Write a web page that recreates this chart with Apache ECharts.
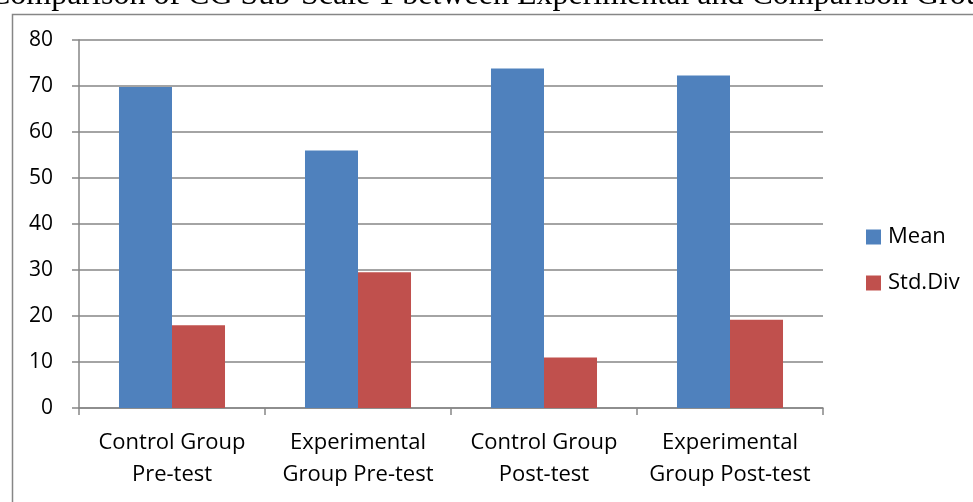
<!DOCTYPE html>
<html>
<head>
<meta charset="utf-8">
<script src="https://cdn.jsdelivr.net/npm/echarts@6/dist/echarts.min.js"></script>
<style>
html,body{margin:0;padding:0;background:#fff;}
#c{width:973px;height:502px;}
</style>
</head>
<body>
<div id="c"></div>
<script>
const titleText = "Comparison of CG Sub-Scale 1 between Experimental and Comparison Group";
const categories = ["Control Group\nPre-test", "Experimental\nGroup Pre-test", "Control Group\nPost-test", "Experimental\nGroup Post-test"];
const meanValues = [69.8, 56.0, 73.8, 72.3];
const stdValues = [18.0, 29.5, 11.0, 19.2];
const seriesNames = ["Mean", "Std.Div"];

const font = "'Open Sans', Lato, sans-serif";
const chart = echarts.init(document.getElementById('c'));
chart.setOption({
  animation: false,
  backgroundColor: '#fff',
  graphic: [
    { type: 'rect', left: 10, top: 12, shape: { width: 1200, height: 1000 }, style: { fill: 'none', stroke: '#868686', lineWidth: 1.5 }, z: -1 },
    { type: 'text', left: -11, top: -20, style: { text: titleText, font: "32px 'Liberation Serif', 'Times New Roman', serif", fill: '#000' } }
  ],
  legend: {
    orient: 'vertical',
    left: 866,
    top: 226,
    padding: 0,
    itemWidth: 15,
    itemHeight: 15,
    itemGap: 24,
    icon: 'rect',
    textStyle: { fontFamily: font, fontSize: 22, color: '#000', padding: [0,0,0,2] },
    data: seriesNames
  },
  grid: { left: 79, right: 150, top: 40, bottom: 94 },
  xAxis: {
    type: 'category',
    data: categories,
    axisLine: { lineStyle: { color: '#868686', width: 1.5 } },
    axisTick: { show: true, interval: 0, length: 7, lineStyle: { color: '#868686', width: 1.5 } },
    axisLabel: { interval: 0, fontFamily: font, fontSize: 22, color: '#000', margin: 19, lineHeight: 32 }
  },
  yAxis: {
    type: 'value',
    min: 0, max: 80, interval: 10,
    axisLine: { show: true, lineStyle: { color: '#868686', width: 1.5 } },
    axisTick: { show: true, length: 7, lineStyle: { color: '#868686', width: 1.5 } },
    splitLine: { lineStyle: { color: '#868686', width: 1.5 } },
    axisLabel: { fontFamily: font, fontSize: 21, color: '#000', margin: 26 }
  },
  series: [
    { name: seriesNames[0], type: 'bar', data: meanValues, barCategoryGap: '43%', barGap: '0%', itemStyle: { color: '#4F81BD' } },
    { name: seriesNames[1], type: 'bar', data: stdValues, barCategoryGap: '43%', barGap: '0%', itemStyle: { color: '#C0504D' } }
  ]
});
</script>
</body>
</html>
